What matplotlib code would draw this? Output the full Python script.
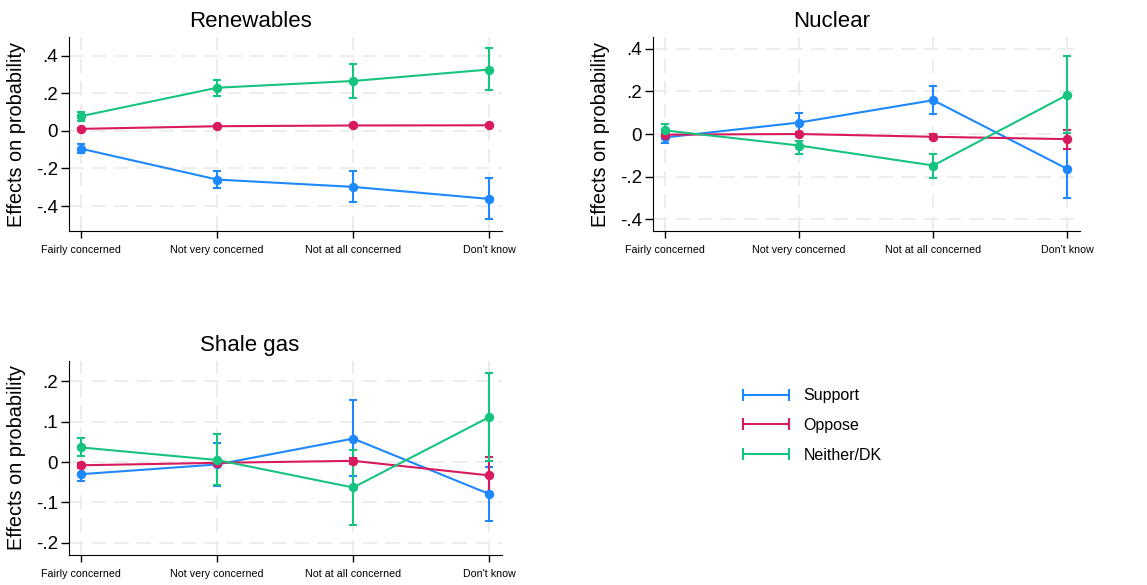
import numpy as np
import matplotlib
matplotlib.use("Agg")
import matplotlib.pyplot as plt
from matplotlib.lines import Line2D

plt.rcParams['font.family'] = ['Liberation Sans', 'DejaVu Sans']

# categories and series
cats = ["Fairly concerned", "Not very concerned", "Not at all concerned", "Don't know"]
series = ["Support", "Oppose", "Neither/DK"]
colors = ["#1E88FF", "#D81B5E", "#16C47F"]

# Renewables: estimate, lower, upper
ren_support = [-0.095, -0.259, -0.298, -0.362]
ren_support_lo = [-0.118, -0.302, -0.379, -0.471]
ren_support_hi = [-0.071, -0.216, -0.216, -0.252]
ren_oppose = [0.011, 0.025, 0.029, 0.030]
ren_oppose_lo = [0.004, 0.018, 0.021, 0.021]
ren_oppose_hi = [0.018, 0.032, 0.037, 0.039]
ren_neither = [0.079, 0.230, 0.266, 0.327]
ren_neither_lo = [0.054, 0.188, 0.177, 0.216]
ren_neither_hi = [0.102, 0.270, 0.354, 0.439]

# Nuclear
nuc_support = [-0.016, 0.054, 0.159, -0.164]
nuc_support_lo = [-0.043, 0.009, 0.094, -0.300]
nuc_support_hi = [0.013, 0.098, 0.225, -0.030]
nuc_oppose = [-0.003, 0.000, -0.013, -0.024]
nuc_oppose_lo = [-0.012, -0.008, -0.024, -0.069]
nuc_oppose_hi = [0.006, 0.008, -0.002, 0.019]
nuc_neither = [0.017, -0.054, -0.148, 0.184]
nuc_neither_lo = [-0.010, -0.096, -0.205, 0.003]
nuc_neither_hi = [0.046, -0.033, -0.094, 0.367]

# Shale gas
sha_support = [-0.030, -0.006, 0.058, -0.079]
sha_support_lo = [-0.048, -0.060, -0.035, -0.145]
sha_support_hi = [-0.012, 0.048, 0.153, -0.012]
sha_oppose = [-0.008, -0.002, 0.003, -0.033]
sha_oppose_lo = [-0.014, -0.009, -0.004, -0.075]
sha_oppose_hi = [-0.002, 0.005, 0.010, 0.012]
sha_neither = [0.036, 0.005, -0.063, 0.111]
sha_neither_lo = [0.015, -0.057, -0.155, 0.002]
sha_neither_hi = [0.059, 0.069, 0.029, 0.221]

panels = [
    ("Renewables", [(ren_support, ren_support_lo, ren_support_hi),
                    (ren_oppose, ren_oppose_lo, ren_oppose_hi),
                    (ren_neither, ren_neither_lo, ren_neither_hi)],
     [-0.4, -0.2, 0, 0.2, 0.4], ["-.4", "-.2", "0", ".2", ".4"], (-0.533, 0.50),
     [0.0602, 0.6051, 0.3775, 0.3316]),
    ("Nuclear", [(nuc_support, nuc_support_lo, nuc_support_hi),
                 (nuc_oppose, nuc_oppose_lo, nuc_oppose_hi),
                 (nuc_neither, nuc_neither_lo, nuc_neither_hi)],
     [-0.4, -0.2, 0, 0.2, 0.4], ["-.4", "-.2", "0", ".2", ".4"], (-0.456, 0.456),
     [0.5693, 0.6051, 0.3723, 0.3316]),
    ("Shale gas", [(sha_support, sha_support_lo, sha_support_hi),
                   (sha_oppose, sha_oppose_lo, sha_oppose_hi),
                   (sha_neither, sha_neither_lo, sha_neither_hi)],
     [-0.2, -0.1, 0, 0.1, 0.2], ["-.2", "-.1", "0", ".1", ".2"], (-0.23, 0.25),
     [0.0602, 0.0513, 0.3775, 0.3316]),
]

fig = plt.figure(figsize=(11.47, 5.85), dpi=100)
x = np.arange(len(cats))

for title, data, yt, ytl, ylim, rect in panels:
    ax = fig.add_axes(rect)
    for (est, lo, hi), c in zip(data, colors):
        est, lo, hi = np.array(est), np.array(lo), np.array(hi)
        ax.errorbar(x, est, yerr=[est - lo, hi - est], color=c, lw=1.5,
                    marker='o', ms=5.8, capsize=2.8, capthick=1.5, elinewidth=1.5)
    ax.set_xlim(-0.09, 3.095)
    ax.set_ylim(*ylim)
    ax.set_xticks(x)
    ax.set_xticklabels(cats, fontsize=7.7)
    ax.set_yticks(yt)
    ax.set_yticklabels(ytl, fontsize=13.5)
    ax.tick_params(axis='y', length=6, width=1, pad=2)
    ax.tick_params(axis='x', length=5, width=1, pad=5)
    ax.grid(True, color='#ececec', lw=1.3, ls=(0, (8, 4.5)))
    ax.set_axisbelow(True)
    for s in ['top', 'right']:
        ax.spines[s].set_visible(False)
    ax.set_ylabel("Effects on probability", fontsize=14.3, labelpad=7)
    ax.set_title(title, fontsize=16, x=0.418, pad=7)

handles = [Line2D([], [], color=c, lw=1.5, marker='|', ms=8, mew=1.5) for c in colors]
fig.legend(handles, series, loc='upper left', bbox_to_anchor=(0.631, 0.361),
           frameon=False, numpoints=2, fontsize=11.5, handlelength=3.5,
           handletextpad=0.6, labelspacing=0.93)

fig.savefig("out.png", dpi=100)
